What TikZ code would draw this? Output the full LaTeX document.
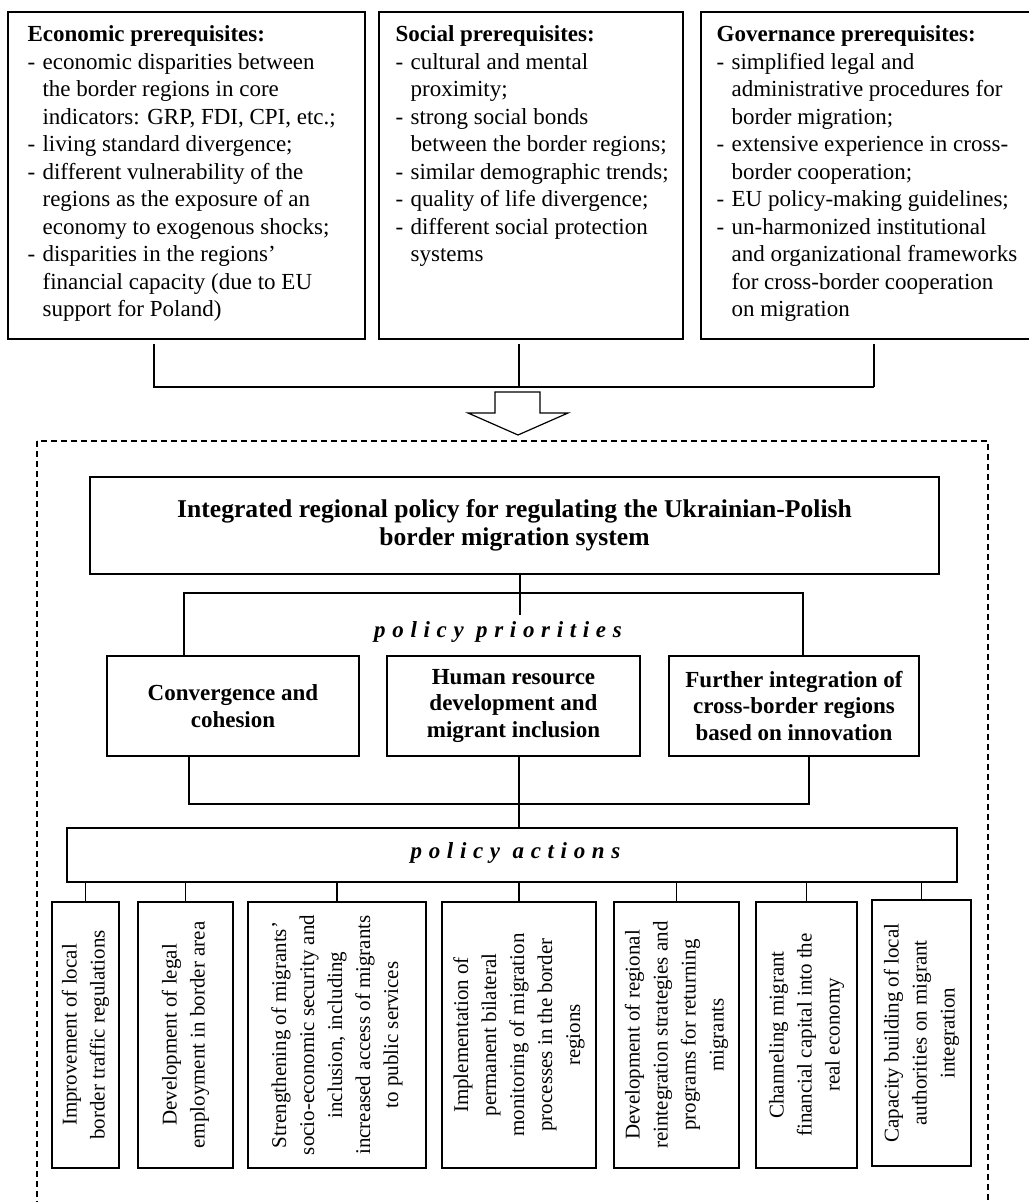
\documentclass[tikz,border=0pt]{standalone}
\usepackage{fontspec}
\setmainfont{Liberation Serif}
\newfontfamily\spacedfont[LetterSpace=29]{Liberation Serif}
\usetikzlibrary{positioning}

\newcommand{\dsh}{\makebox[7.5pt][l]{-}}
\newcommand{\ind}{\hspace*{7.5pt}}

\tikzset{
  box/.style={draw, line width=0.8pt, inner sep=0pt},
  pretext/.style={anchor=north west, inner sep=0pt, align=left,
    font=\fontsize{11.5}{13.75}\selectfont},
  prio/.style={box, align=center, font=\fontsize{11.5}{13.2}\selectfont\bfseries,
    minimum height=50pt},
  actbox/.style={box, rotate=90, align=center, minimum width=133pt,
    font=\fontsize{10.5}{14}\selectfont},
  link/.style={line width=0.6pt},
  spaced/.style={font=\fontsize{11.5}{13.75}\spacedfont\bfseries\itshape}
}

\begin{document}
\begin{tikzpicture}[x=0.5pt,y=-0.5pt]
\useasboundingbox (0,0) rectangle (1028,1202);

% Prerequisite boxes
\node[box, minimum width=178.5pt, minimum height=163.5pt] (econ) at (186.5,175.5) {};
\node[box, minimum width=152pt, minimum height=163.5pt] (social) at (531,175.5) {};
\node[box, minimum width=167.5pt, minimum height=163.5pt] (gov) at (868.5,175.5) {};

\node[pretext] (econtxt) at ([xshift=10pt,yshift=-7pt]econ.north west)
  {\textbf{Economic prerequisites:}\\
   \dsh economic disparities between\\
   \ind the border regions in core\\
   \ind indicators: GRP, FDI, CPI, etc.;\\
   \dsh living standard divergence;\\
   \dsh different vulnerability of the\\
   \ind regions as the exposure of an\\
   \ind economy to exogenous shocks;\\
   \dsh disparities in the regions'\\
   \ind financial capacity (due to EU\\
   \ind support for Poland)};
\node[pretext] (socialtxt) at ([xshift=8.5pt,yshift=-7pt]social.north west)
  {\textbf{Social prerequisites:}\\
   \dsh cultural and mental\\
   \ind proximity;\\
   \dsh strong social bonds\\
   \ind between the border regions;\\
   \dsh similar demographic trends;\\
   \dsh quality of life divergence;\\
   \dsh different social protection\\
   \ind systems};
\node[pretext] (govtxt) at ([xshift=8pt,yshift=-7pt]gov.north west)
  {\textbf{Governance prerequisites:}\\
   \dsh simplified legal and\\
   \ind administrative procedures for\\
   \ind border migration;\\
   \dsh extensive experience in cross-\\
   \ind border cooperation;\\
   \dsh EU policy-making guidelines;\\
   \dsh un-harmonized institutional\\
   \ind and organizational frameworks\\
   \ind for cross-border cooperation\\
   \ind on migration};

% Joining lines and hollow arrow
\coordinate (preL) at (154,387);
\coordinate (preM) at (519,387);
\coordinate (preR) at (874,387);
\draw[link, shorten <=2pt] (econ.south -| preL) |- (preR);
\draw[link, shorten <=2pt] (gov.south -| preR) -- (preR);
\draw[link, shorten <=2pt] (social.south -| preM) -- (preM);
\draw[line width=0.6pt] (495,392) -- (540,392) -- (540,413) -- (568,413)
  -- (518,435) -- (468,413) -- (495,413) -- cycle;

% Dashed frame
\draw[line width=0.6pt, dash pattern=on 3pt off 2pt] (37,441) rectangle (988,1215);

% Integrated policy
\node[box, align=center, minimum width=424.5pt, minimum height=48.5pt,
  font=\fontsize{12.8}{14}\selectfont\bfseries] (policy) at (514.5,525.5)
  {Integrated regional policy for regulating the Ukrainian-Polish\\
   border migration system};

% Policy priorities
\node[spaced] (priotxt) at (498,632) {policy priorities};
\node[prio, minimum width=126pt] (conv) at (233,706) {Convergence and\\cohesion};
\node[prio, minimum width=126.5pt] (human) at (513.5,706)
  {Human resource\\development and\\migrant inclusion};
\node[prio, minimum width=125pt] (further) at (794,706)
  {Further integration of\\cross-border regions\\based on innovation};

\coordinate (prioL) at (184,593);
\coordinate (prioM) at (520,615);
\coordinate (prioR) at (803,593);
\draw[link] (policy.south -| prioM) -- (prioM);
\draw[link] (conv.north -| prioL) |- (prioR) -- (further.north -| prioR);

% Policy actions
\node[box, minimum width=445pt, minimum height=27pt] (acts) at (512,855) {};
\node[spaced] (actstxt) at (515.5,853) {policy actions};

\coordinate (actL) at (189,804);
\coordinate (actM) at (519,804);
\coordinate (actR) at (809,804);
\draw[link] (conv.south -| actL) |- (actR) -- (further.south -| actR);
\draw[link] (human.south -| actM) -- (acts.north -| actM);

\node[actbox, minimum height=33.5pt] (act1) at (85.5,1035)
  {Improvement of local\\border traffic regulations};
\node[actbox, minimum height=47.5pt] (act2) at (185.5,1035)
  {Development of legal\\employment in border area};
\node[actbox, minimum height=89pt] (act3) at (337,1035)
  {Strengthening of migrants'\\socio-economic security and\\inclusion, including\\increased access of migrants\\to public services};
\node[actbox, minimum height=77pt] (act4) at (519,1035)
  {Implementation of\\permanent bilateral\\monitoring of migration\\processes in the border\\regions};
\node[actbox, minimum height=62.5pt] (act5) at (676.5,1035)
  {Development of regional\\reintegration strategies and\\programs for returning\\migrants};
\node[actbox, minimum height=50.5pt] (act6) at (806.5,1035)
  {Channeling migrant\\financial capital into the\\real economy};
\node[actbox, minimum height=49.5pt] (act7) at (921.5,1033)
  {Capacity building of local\\authorities on migrant\\integration};

\foreach \a in {act1,act2,act3,act4,act5,act6,act7}
  \draw[link] (\a.east |- acts.south) -- (\a.east);
\end{tikzpicture}
\end{document}
